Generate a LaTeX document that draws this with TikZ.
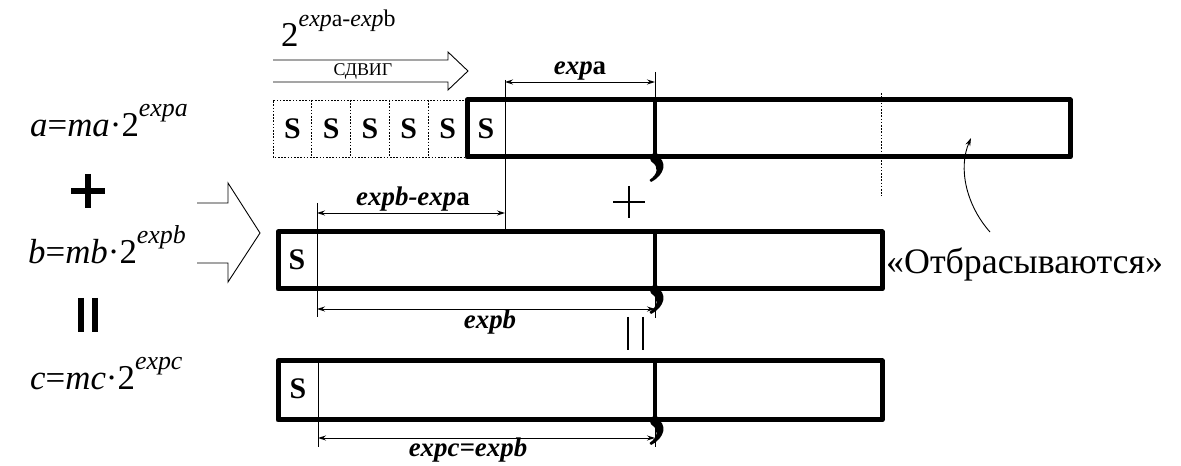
\documentclass[tikz,border=0pt]{standalone}
\usepackage{fontspec}
\setmainfont{Liberation Serif}
\usetikzlibrary{arrows.meta}
\newcommand\myup[2][26]{\raisebox{0.58em}{\fontsize{#1}{#1}\selectfont #2}}
\begin{document}
\begin{tikzpicture}[x=1bp,y=-1bp,
  thickbox/.style={line width=5bp, line join=round},
  divider/.style={line width=3.5bp},
  thinln/.style={line width=0.9bp},
  dotln/.style={line width=0.9bp, dash pattern=on 1.6bp off 1.6bp},
  dimarrow/.style={line width=0.9bp, {Stealth[length=8bp,width=5bp]}-{Stealth[length=8bp,width=5bp]}},
  lbl/.style={font=\fontsize{27}{30}\selectfont\bfseries\itshape, inner sep=0, anchor=base},
  stxt/.style={font=\fontsize{30}{32}\selectfont\bfseries, inner sep=0},
  formula/.style={font=\fontsize{35}{40}\selectfont, anchor=base west, inner sep=0},
  commamark/.pic={\fill (0,0) circle (5.2);
    \fill (1,-3) .. controls (13,3) and (10,17) .. (-4,24) -- (-5.5,22) .. controls (3,16) and (4,9) .. (-3,4) -- cycle;},
]
\useasboundingbox (0,0) rectangle (1181,466);

% ---- left formulas ----
\node[formula] (fa) at (30,137) {\textit{a}=\textit{ma}·2\myup{\textit{expa}}};
\node[formula] (fb) at (28,264) {\textit{b}=\textit{mb}·2\myup{\textit{expb}}};
\node[formula] (fc) at (30,390) {\textit{c}=\textit{mc}·2\myup{\textit{expc}}};
\draw[line width=6.5bp] (71,191) -- (105,191) (88,174) -- (88,208);
\draw[line width=6.5bp] (81,298) -- (81,332) (95,298) -- (95,332);

% big hollow arrow
\draw[thinln, line join=miter] (197,203) -- (228,203) -- (228,183) -- (260,233) -- (228,282) -- (228,263) -- (197,263);

% ---- top: shift ----
\node[font=\fontsize{35}{36}\selectfont, anchor=base west, inner sep=0] (shiftexp) at (281,47)
  {2\myup[24]{\textit{exp}a-\textit{exp}b}};
\draw[thinln, line join=miter] (273,60) -- (448,60) -- (448,52) -- (468,71) -- (448,90) -- (448,82) -- (273,82);
\node[font=\fontsize{18}{20}\selectfont, inner sep=0] (shifttxt) at (363,71) {СДВИГ};

% ---- row a ----
\draw[dotln] (467,100) -- (273,100) -- (273,157) -- (467,157);
\foreach \xx in {311.8,350.6,389.4,428.2} \draw[dotln] (\xx,100) -- (\xx,157);
\foreach \xx/\nm in {292.4/s1,331.2/s2,370/s3,408.8/s4,447.6/s5,486/s6}
  \node[stxt] (\nm) at (\xx,129) {S};
\draw[thinln] (505,80) -- (505,232);
\draw[thinln] (655,72) -- (655,100);
\draw[thickbox] (467,100) rectangle (1070,157);
\draw[divider] (655,100) -- (655,157);
\pic at (655,158) {commamark};
\coordinate (ea1) at (505,82);
\coordinate (ea2) at (655,82);
\draw[dimarrow] (ea1) -- (ea2);
\node[lbl] (lexpa) at (580,75) {\textit{exp}\textup{a}};
\draw[dotln] (881,93) -- (881,196);

% discarded arrow
\node[font=\fontsize{36}{40}\selectfont, anchor=base west, inner sep=0] (disc) at (886,274) {«Отбрасываются»};
\coordinate (cr1) at (990,232);
\coordinate (cr2) at (971,138);
\draw[thinln, -{Stealth[length=8bp,width=5bp]}] (cr1) .. controls (966,205) and (958,168) .. (cr2);

% plus (thin)
\draw[line width=1.6bp] (613,202) -- (645,202) (629,186) -- (629,218);

% ---- row b ----
\draw[thinln] (317,203) -- (317,317);
\draw[thinln] (655,289) -- (655,318);
\draw[thickbox] (278,232) rectangle (882,289);
\draw[divider] (655,232) -- (655,289);
\pic at (655,290) {commamark};
\node[stxt] (sb) at (297,260) {S};
\coordinate (eb1) at (317,213);
\coordinate (eb2) at (505,213);
\draw[dimarrow] (eb1) -- (eb2);
\node[lbl] (lexpba) at (413,206) {\textit{expb-exp}\textup{a}};
\coordinate (ec1) at (317,309);
\coordinate (ec2) at (655,309);
\draw[dimarrow] (ec1) -- (ec2);
\node[lbl] (lexpb) at (490,329) {expb};

% equals (thin)
\draw[line width=1.8bp] (628,317) -- (628,350) (643,317) -- (643,350);

% ---- row c ----
\draw[thinln] (318,361) -- (318,447);
\draw[thinln] (655,420) -- (655,447);
\draw[thickbox] (278,361) rectangle (882,420);
\draw[divider] (655,361) -- (655,420);
\pic at (655,421) {commamark};
\node[stxt] (sc) at (298,389) {S};
\coordinate (ed1) at (318,438);
\coordinate (ed2) at (655,438);
\draw[dimarrow] (ed1) -- (ed2);
\node[lbl] (lexpc) at (468,457) {expc=expb};
\end{tikzpicture}
\end{document}
